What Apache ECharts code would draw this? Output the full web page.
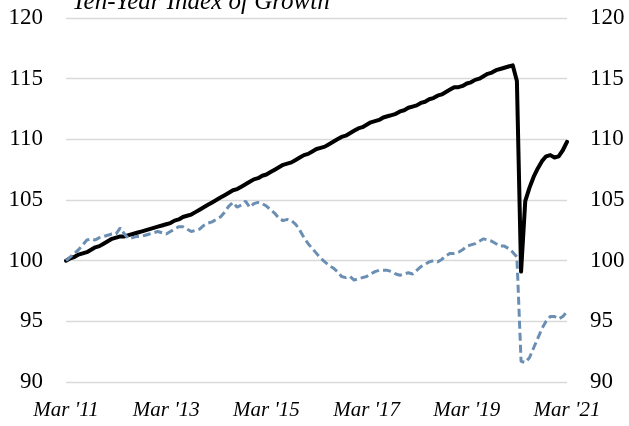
<!DOCTYPE html>
<html>
<head>
<meta charset="utf-8">
<script src="https://cdn.jsdelivr.net/npm/echarts@6/dist/echarts.min.js"></script>
<style>
html,body{margin:0;padding:0;background:#fff;}
#chart{width:629px;height:426px;}
</style>
</head>
<body>
<div id="chart"></div>
<script>
var titleText = "Ten-Year Index of Growth";
var startYear = 2011, startMonth = 3, monthCount = 121;
var tickLabels = ["Mar '11", "Mar '13", "Mar '15", "Mar '17", "Mar '19", "Mar '21"];
var yTicks = [90, 95, 100, 105, 110, 115, 120];

var blackSeries = [
  100.0, 100.2, 100.3, 100.5, 100.6, 100.7, 100.9, 101.1, 101.2, 101.4,
  101.6, 101.8, 101.9, 102.0, 102.0, 102.1, 102.2, 102.3, 102.4, 102.5,
  102.6, 102.7, 102.8, 102.9, 103.0, 103.1, 103.3, 103.4, 103.6, 103.7,
  103.8, 104.0, 104.2, 104.4, 104.6, 104.8, 105.0, 105.2, 105.4, 105.6,
  105.8, 105.9, 106.1, 106.3, 106.5, 106.7, 106.8, 107.0, 107.1, 107.3,
  107.5, 107.7, 107.9, 108.0, 108.1, 108.3, 108.5, 108.7, 108.8, 109.0,
  109.2, 109.3, 109.4, 109.6, 109.8, 110.0, 110.2, 110.3, 110.5, 110.7,
  110.9, 111.0, 111.2, 111.4, 111.5, 111.6, 111.8, 111.9, 112.0, 112.1,
  112.3, 112.4, 112.6, 112.7, 112.8, 113.0, 113.1, 113.3, 113.4, 113.6,
  113.7, 113.9, 114.1, 114.3, 114.3, 114.4, 114.6, 114.7, 114.9, 115.0,
  115.2, 115.4, 115.5, 115.7, 115.8, 115.9, 116.0, 116.1, 114.8, 99.1,
  104.9, 106.0, 106.9, 107.6, 108.2, 108.6, 108.7, 108.5, 108.6, 109.1,
  109.8
];

var blueSeries = [
  100.0, 100.3, 100.6, 100.9, 101.3, 101.7, 101.8, 101.7, 101.9, 102.0,
  102.1, 102.2, 102.2, 102.7, 102.2, 101.8, 101.9, 102.0, 102.0, 102.1,
  102.2, 102.3, 102.4, 102.3, 102.2, 102.4, 102.6, 102.8, 102.8, 102.6,
  102.4, 102.5, 102.6, 102.9, 103.1, 103.2, 103.4, 103.6, 104.0, 104.5,
  104.8, 104.4, 104.6, 104.9, 104.4, 104.7, 104.8, 104.7, 104.5, 104.2,
  103.9, 103.5, 103.3, 103.4, 103.3, 103.0, 102.5, 101.9, 101.4, 101.0,
  100.6, 100.2, 99.9, 99.6, 99.4, 99.1, 98.7, 98.6, 98.7, 98.4,
  98.5, 98.6, 98.7, 98.9, 99.1, 99.2, 99.2, 99.2, 99.1, 98.9,
  98.8, 98.9, 99.0, 98.9, 99.2, 99.5, 99.7, 99.9, 100.0, 99.9,
  100.1, 100.4, 100.6, 100.6, 100.7, 100.9, 101.2, 101.3, 101.4, 101.6,
  101.8, 101.7, 101.6, 101.4, 101.2, 101.2, 101.0, 100.7, 100.3, 91.7,
  91.6, 92.0, 92.8, 93.6, 94.4, 95.0, 95.4, 95.4, 95.2, 95.4,
  95.8
];

var months = [];
for (var k = 0; k < monthCount; k++) {
  var m = startMonth - 1 + k;
  months.push((startYear + Math.floor(m / 12)) + '-' + ((m % 12) + 1));
}

var serifFont = "'Liberation Serif', 'DejaVu Serif', serif";
var chart = echarts.init(document.getElementById('chart'), null, {renderer: 'canvas'});

var yAxisCommon = {
  type: 'value',
  min: yTicks[0],
  max: yTicks[yTicks.length - 1],
  interval: 5,
  axisLine: {show: false},
  axisTick: {show: false},
  axisLabel: {color: '#000', fontFamily: serifFont, fontSize: 23, margin: 23}
};

chart.setOption({
  animation: false,
  backgroundColor: '#fff',
  title: {
    text: titleText,
    left: 67,
    top: -15,
    textStyle: {fontFamily: serifFont, fontStyle: 'italic', fontWeight: 'normal', fontSize: 25, color: '#000'}
  },
  grid: {left: 66, right: 62, top: 18, bottom: 44, containLabel: false},
  xAxis: {
    type: 'category',
    data: months,
    boundaryGap: false,
    axisLine: {show: false},
    axisTick: {show: false},
    splitLine: {show: false},
    axisLabel: {
      interval: 23,
      margin: 18,
      color: '#000',
      fontFamily: serifFont,
      fontStyle: 'italic',
      fontSize: 21,
      formatter: function (v, idx) { return tickLabels[Math.round(idx / 24)]; }
    }
  },
  yAxis: [
    Object.assign({}, yAxisCommon, {
      position: 'left',
      splitLine: {show: true, lineStyle: {color: '#d9d9d9', width: 1.3}}
    }),
    Object.assign({}, yAxisCommon, {
      position: 'right',
      splitLine: {show: false}
    })
  ],
  series: [
    {
      name: 'Black',
      type: 'line',
      data: blackSeries,
      symbol: 'none',
      lineStyle: {color: '#000', width: 4, join: 'round', cap: 'round'},
      z: 2
    },
    {
      name: 'Blue',
      type: 'line',
      data: blueSeries,
      symbol: 'none',
      lineStyle: {color: '#6b8fb3', width: 3, type: [8, 4]},
      z: 3
    }
  ]
});
</script>
</body>
</html>
